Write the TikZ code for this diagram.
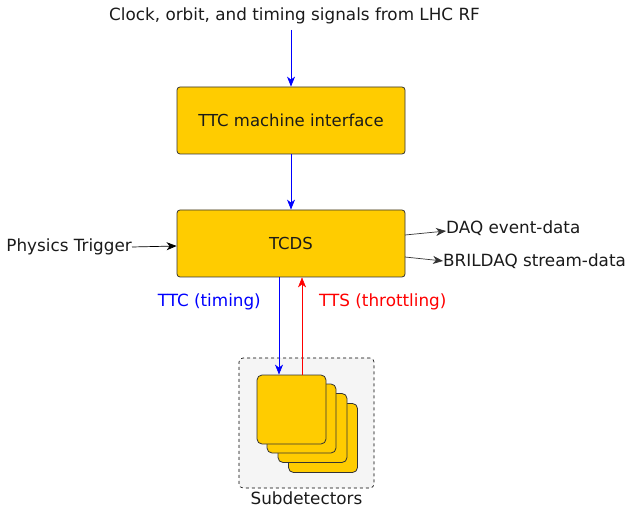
\documentclass[tikz,border=0pt]{standalone}
\usepackage{fontspec}
\setmainfont{DejaVu Sans}
\usetikzlibrary{arrows.meta}
\definecolor{boxfill}{HTML}{FFCC00}
\definecolor{boxline}{HTML}{333333}
\definecolor{subfill}{HTML}{F5F5F5}
\definecolor{txt}{HTML}{1A1A1A}
\tikzset{
  block/.style={draw=boxline, fill=boxfill, rounded corners=3pt, line width=0.8pt,
    minimum width=228pt, minimum height=67pt, inner sep=0pt, text=txt, font=\fontsize{16.5}{19}\selectfont},
  card/.style={draw=boxline, fill=boxfill, rounded corners=5pt, line width=0.8pt,
    minimum width=69pt, minimum height=69pt, inner sep=0pt},
  lbl/.style={inner sep=0pt, text=txt, font=\fontsize{16.8}{19}\selectfont},
  arr/.style={-{Stealth[length=10pt,width=8pt,inset=3pt]}, line width=0.7pt},
}
\begin{document}
\begin{tikzpicture}[x=1pt,y=-1pt]
\useasboundingbox (0,0) rectangle (626,510);
% top label
\node[lbl] (clk) at (294.5,16) {Clock, orbit, and timing signals from LHC RF};
\node[block] (ttcmi) at (291,120.5) {TTC machine interface};
\node[block] (tcds) at (291,243.5) {TCDS};
\draw[arr, blue] (291,30) -- (ttcmi.north);
\draw[arr, blue] (ttcmi.south) -- (tcds.north);
% physics trigger
\node[lbl, anchor=east] (phys) at (132,247) {Physics Trigger};
\draw[arr, black] (phys.east) -- (tcds.west |- 0,246);
% outputs
\node[lbl, anchor=west] (daq) at (446,228) {DAQ event-data};
\node[lbl, anchor=west] (bril) at (443,261) {BRILDAQ stream-data};
\coordinate (daqs) at (405,235);
\coordinate (brils) at (405,257);
\draw[arr, boxline] (daqs) -- (daq.west |- 0,231);
\draw[arr, boxline] (brils) -- (bril.west |- 0,261);
% subdetectors
\node[draw=black, dashed, fill=subfill, rounded corners=4pt, line width=0.6pt,
  minimum width=135pt, minimum height=130pt, inner sep=0pt] (subbox) at (306.5,423) {};
\node[lbl, anchor=north] (sublbl) at (306.5,492) {Subdetectors};
\node[card] (c4) at (323,438) {};
\node[card] (c3) at (312.5,428) {};
\node[card] (c2) at (301.5,418.5) {};
\node[card] (c1) at (291.5,409.5) {};
% TTC / TTS
\coordinate (ttctop) at (279,277);
\coordinate (ttsbot) at (302,375);
\draw[arr, blue] (ttctop) -- (ttctop |- c1.north);
\draw[arr, red, line width=0.5pt] (ttsbot) -- (ttsbot |- tcds.south);
\node[lbl, blue, anchor=east] (ttclbl) at (261,302) {TTC (timing)};
\node[lbl, red, anchor=west] (ttslbl) at (319,302) {TTS (throttling)};
\end{tikzpicture}
\end{document}
